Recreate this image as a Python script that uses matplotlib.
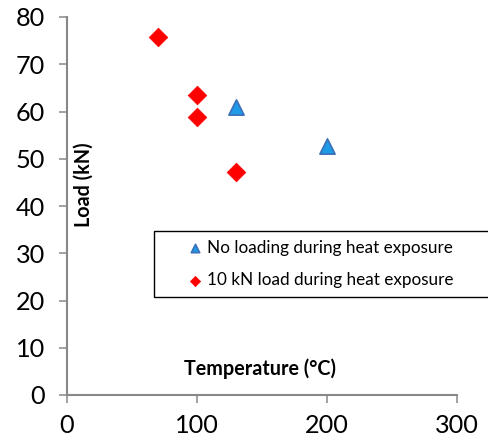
import matplotlib
matplotlib.use("Agg")
import matplotlib.pyplot as plt
from matplotlib.patches import Rectangle

plt.rcParams['font.family'] = ['Lato', 'DejaVu Sans']

no_load_temp = [130, 200]
no_load_val = [61.0, 52.7]
load10_temp = [70, 100, 100, 130]
load10_val = [75.7, 63.5, 58.9, 47.1]

x_ticks = [0, 100, 200, 300]
y_ticks = [0, 10, 20, 30, 40, 50, 60, 70, 80]

W, H = 488, 442
fig = plt.figure(figsize=(W / 100, H / 100), dpi=100)
ax = fig.add_axes([67 / W, 1 - 395 / H, 390 / W, 378 / H])

ax.scatter(no_load_temp, no_load_val, marker='^', s=120, facecolor='#1E9BE6',
           edgecolor='#3B6FB8', linewidth=1.2, zorder=3,
           label='No loading during heat exposure')
ax.scatter(load10_temp, load10_val, marker='D', s=90, facecolor='#FF0000',
           edgecolor='#FF0000', linewidth=0.5, zorder=3,
           label='10 kN load during heat exposure')

ax.set_xlim(0, 300)
ax.set_ylim(0, 80)
ax.set_xticks(x_ticks)
ax.set_yticks(y_ticks)

for s in ['top', 'right']:
    ax.spines[s].set_visible(False)
for s in ['left', 'bottom']:
    ax.spines[s].set_color('#888888')
    ax.spines[s].set_linewidth(1.5)

ax.tick_params(axis='both', colors='#888888', length=6, width=1.1,
               labelsize=18.2, labelcolor='black')
ax.tick_params(axis='y', pad=10)
ax.tick_params(axis='x', pad=8)

ax.set_xlabel('Temperature (°C)', fontsize=14.2, fontweight='bold', va='center')
ax.xaxis.set_label_coords((260 - 67) / 390, (395 - 369) / 378)
ax.set_ylabel('Load (kN)', fontsize=14.2, fontweight='bold', va='center')
ax.yaxis.set_label_coords((84 - 67) / 390, (395 - 185) / 378)

# legend box
rx0, ry0, rx1, ry1 = 154, 231, 492, 297
fig.patches.append(Rectangle((rx0 / W, 1 - ry1 / H), (rx1 - rx0) / W, (ry1 - ry0) / H,
                             transform=fig.transFigure, facecolor='white',
                             edgecolor='black', linewidth=1.0, zorder=5))
leg = fig.legend(loc='center left', bbox_to_anchor=(180 / W, 1 - 264 / H),
                 frameon=False, fontsize=12.3, handlelength=0.8, handletextpad=0.3,
                 labelspacing=0.95, borderpad=0, markerscale=0.55)
leg.set_zorder(6)

fig.savefig('out.png', dpi=100)
